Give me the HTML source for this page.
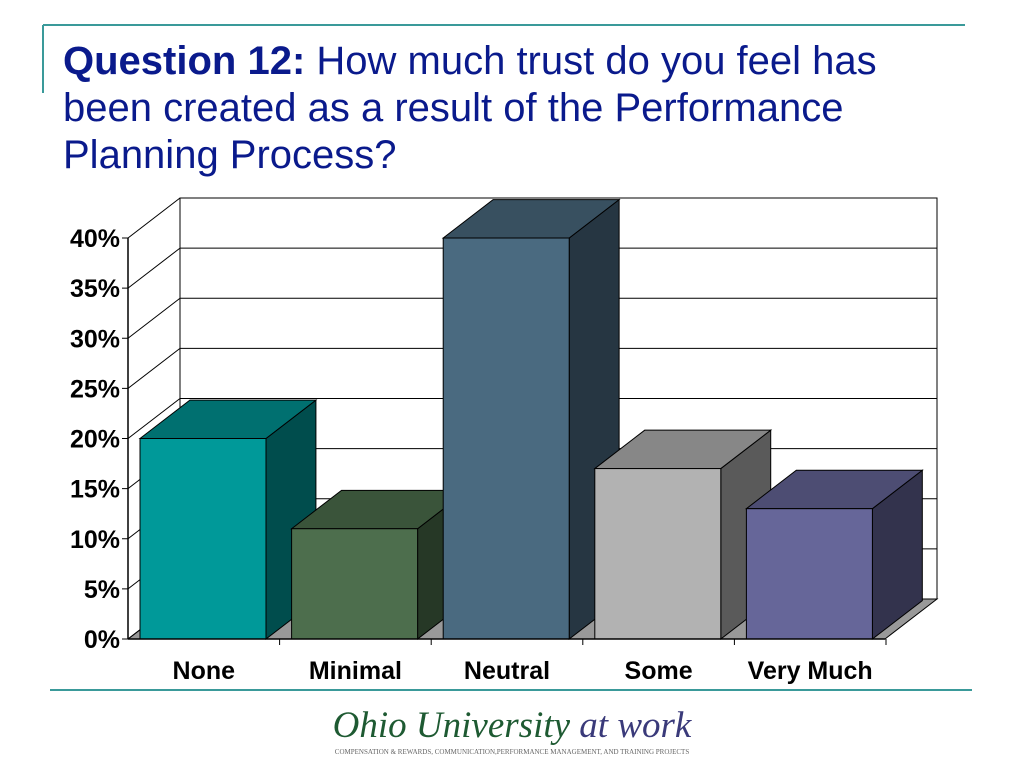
<!DOCTYPE html>
<html><head><meta charset="utf-8"><style>
body{margin:0;width:1024px;height:768px;background:#fff;position:relative;overflow:hidden;font-family:"Liberation Sans",sans-serif}
.t{position:absolute;left:63px;top:38px;font-size:40px;line-height:47px;color:#0a1a8c;width:830px}
</style></head><body>
<svg width="1024" height="768" style="position:absolute;left:0;top:0">
<line x1="43" y1="25" x2="965" y2="25" stroke="#3a9a9a" stroke-width="2"/>
<line x1="43" y1="25" x2="43" y2="93" stroke="#3a9a9a" stroke-width="2"/>
<line x1="50" y1="690" x2="972" y2="690" stroke="#3a9a9a" stroke-width="2"/>
</svg>
<div class="t"><b>Question 12:</b> How much trust do you feel has been created as a result of the Performance Planning Process?</div>
<svg id="c" width="1024" height="768" style="position:absolute;left:0;top:0"></svg>
<div style="position:absolute;left:0;width:1024px;top:704px;text-align:center;font-family:'Liberation Serif',serif;font-style:italic;font-size:37px;color:#1e5a32">Ohio University <span style="color:#3a3a7a">at work</span></div>
<div style="position:absolute;left:0;width:1024px;top:748px;text-align:center;font-family:'Liberation Serif',serif;font-size:7px;color:#666">COMPENSATION &amp; REWARDS, COMMUNICATION,PERFORMANCE MANAGEMENT, AND TRAINING PROJECTS</div>
<script>
const categories=["None","Minimal","Neutral","Some","Very Much"];
const values=[20,11,40,17,13];
const ticks=[0,5,10,15,20,25,30,35,40];
const fronts=["#009999","#4d6e4d","#4a6a80","#b2b2b2","#666699"];
const tops=["#007070","#3a543a","#385060","#878787","#4d4d73"];
const sides=["#004d4d","#263826","#263642","#5a5a5a","#33334d"];
const NS="http://www.w3.org/2000/svg",svg=document.getElementById('c');
const x0=128,y0=639,pxPer=401/40,dx=52,dy=-40,catW=151.6,barW=126;
const Y=v=>y0-v*pxPer;
function el(t,a,p){const e=document.createElementNS(NS,t);for(const k in a)e.setAttribute(k,a[k]);(p||svg).appendChild(e);return e;}
const xr=885;
let f=el('polygon',{points:`${x0},${y0} ${xr},${y0} ${xr+dx},${y0+dy} ${x0+dx},${y0+dy}`,fill:'#999',stroke:'#000','stroke-width':1});

let w=el('rect',{x:x0+dx,y:Y(40)+dy,width:xr-x0,height:y0-Y(40),fill:'#fff',stroke:'#000','stroke-width':1});

ticks.forEach(t=>{
 if(t>0&&t<40){let g=el('line',{x1:x0+dx,y1:Y(t)+dy,x2:xr+dx,y2:Y(t)+dy,stroke:'#000'});}
 let d=el('line',{x1:x0,y1:Y(t),x2:x0+dx,y2:Y(t)+dy,stroke:'#000'});
 el('line',{x1:x0-6,y1:Y(t),x2:x0,y2:Y(t),stroke:'#000'});
 let l=el('text',{x:x0-8,y:Y(t)+9,'text-anchor':'end','font-size':25,'font-weight':'bold',fill:'#000'});l.textContent=t+'%';
 
});
let ax=el('line',{x1:x0,y1:Y(0),x2:x0,y2:Y(40),stroke:'#000','stroke-width':1.5});
categories.forEach((c,i)=>{
 const bx=x0+12+i*catW,by=Y(values[i]),bd=dx*0.96,bh=dy*0.96;
 const g=el('g',{});
 el('polygon',{points:`${bx+barW},${by} ${bx+barW+bd},${by+bh} ${bx+barW+bd},${y0+bh} ${bx+barW},${y0}`,fill:sides[i],stroke:'#000'},g);
 el('polygon',{points:`${bx},${by} ${bx+bd},${by+bh} ${bx+barW+bd},${by+bh} ${bx+barW},${by}`,fill:tops[i],stroke:'#000'},g);
 el('rect',{x:bx,y:by,width:barW,height:y0-by,fill:fronts[i],stroke:'#000'},g);
 let l=el('text',{x:x0+(i+0.5)*catW,y:679,'text-anchor':'middle','font-size':25,'font-weight':'bold',fill:'#000'});l.textContent=c;
 
 el('line',{x1:x0+(i+1)*catW,y1:y0,x2:x0+(i+1)*catW,y2:y0+6,stroke:'#000'});
});
el('line',{x1:x0,y1:y0,x2:xr,y2:y0,stroke:'#000','stroke-width':1.5});
</script>
</body></html>
